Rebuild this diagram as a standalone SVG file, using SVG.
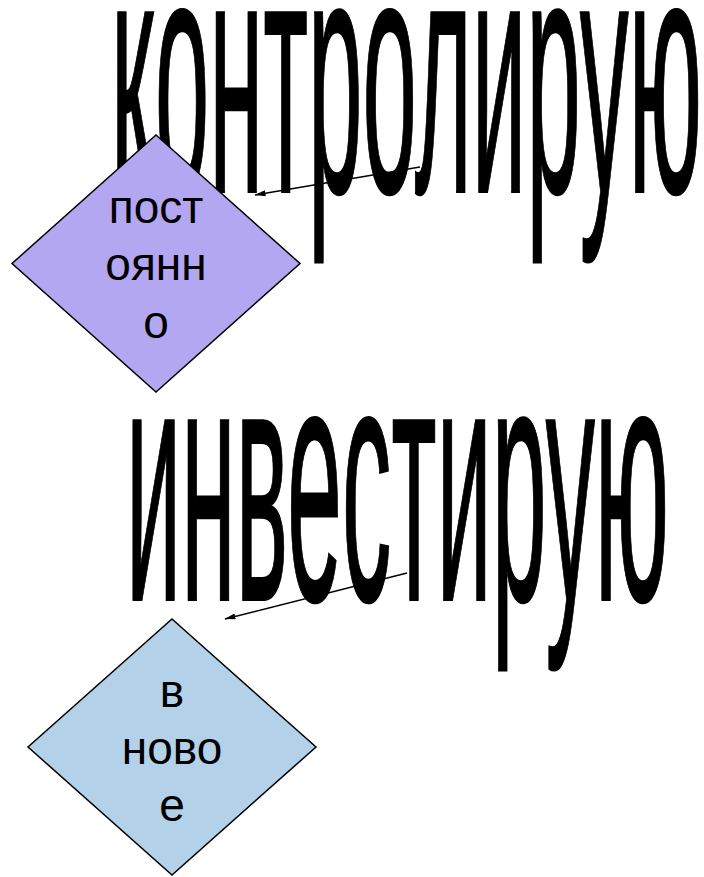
<svg xmlns="http://www.w3.org/2000/svg" width="704" height="877" viewBox="0 0 704 877">
<style>
.big{font-family:"Liberation Sans",Arial,sans-serif;font-size:340px;fill:#000;stroke:#000;stroke-width:2}
.lbl{font-family:"Liberation Sans",Arial,sans-serif;font-size:46px;fill:#000;text-anchor:middle}
.shape{stroke:#000;stroke-width:1.5}
.conn{stroke:#000;stroke-width:1.5;fill:none}
</style>
<defs>
<marker id="ah" viewBox="0 0 11 6" refX="10.5" refY="3" markerWidth="11" markerHeight="6" orient="auto" markerUnits="userSpaceOnUse">
<path d="M0,0 L11,3 L0,6 z" fill="#000"/>
</marker>
</defs>
<rect width="704" height="877" fill="#fff"/>
<g id="word1">
<text class="big" x="111" y="192" textLength="591" lengthAdjust="spacingAndGlyphs">контролирую</text>
</g>
<g id="word2">
<text class="big" x="126" y="600" textLength="543" lengthAdjust="spacingAndGlyphs">инвестирую</text>
</g>
<g id="node1">
<polygon class="shape" points="156,135 300,263.5 156,392 12,263.5" fill="#b4a7f2"/>
<text class="lbl" x="156" y="223">пост</text>
<text class="lbl" x="156" y="280">оянн</text>
<text class="lbl" x="156" y="338">о</text>
</g>
<g id="node2">
<polygon class="shape" points="172,619 316,747 172,875 28,747" fill="#b3d2ea"/>
<text class="lbl" x="172" y="707">в</text>
<text class="lbl" x="172" y="764">ново</text>
<text class="lbl" x="172" y="821">е</text>
</g>
<g id="connectors">
<line class="conn" x1="420" y1="167" x2="255" y2="195" marker-end="url(#ah)"/>
<line class="conn" x1="407" y1="573" x2="225" y2="619" marker-end="url(#ah)"/>
</g>
</svg>
